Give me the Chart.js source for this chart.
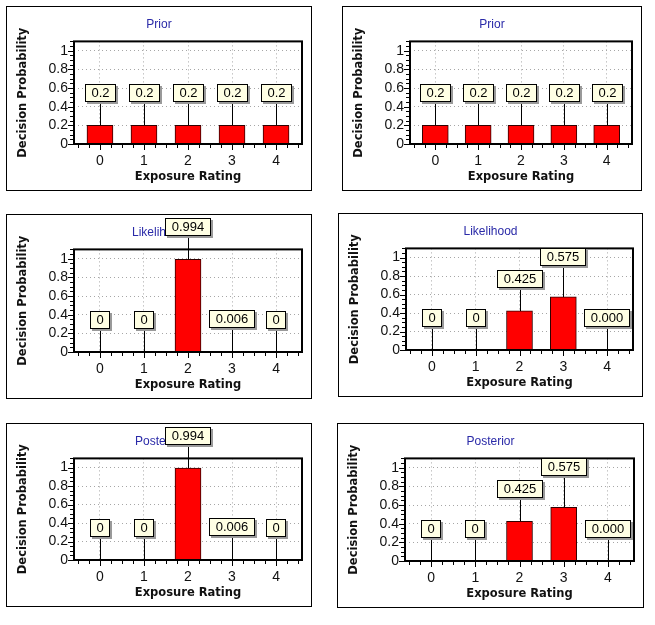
<!DOCTYPE html>
<html><head><meta charset="utf-8">
<script src="https://cdn.jsdelivr.net/npm/chart.js@4/dist/chart.umd.min.js"></script>
<style>
body{margin:0;background:#fff;width:655px;height:625px;position:relative;overflow:hidden}
.panel{position:absolute;border:1px solid #000;box-sizing:border-box;background:#fff}
.panel canvas{display:block}
</style></head><body>
<script>
// ---- data ----
const categories = [0, 1, 2, 3, 4];
const xTicks = [0, 1, 2, 3, 4];
const yTicks = [0, 0.2, 0.4, 0.6, 0.8, 1];
const yTickLabels = ['0', '0.2', '0.4', '0.6', '0.8', '1'];

const priorValues = [0.2, 0.2, 0.2, 0.2, 0.2];
const priorLabels = ['0.2', '0.2', '0.2', '0.2', '0.2'];

const likelihoodLeft = [0, 0, 0.994, 0.006, 0];
const likelihoodLeftLabels = ['0', '0', '0.994', '0.006', '0'];
const likelihoodRight = [0, 0, 0.425, 0.575, 0];
const likelihoodRightLabels = ['0', '0', '0.425', '0.575', '0.000'];

const posteriorLeft = [0, 0, 0.994, 0.006, 0];
const posteriorLeftLabels = ['0', '0', '0.994', '0.006', '0'];
const posteriorRight = [0, 0, 0.425, 0.575, 0];
const posteriorRightLabels = ['0', '0', '0.425', '0.575', '0.000'];

const xTitle = 'Exposure Rating';
const yTitle = 'Decision Probability';

// ---- layout ----
const panels = [
  {title: 'Prior', values: priorValues, labels: priorLabels, left: 6, top: 6, w: 306, h: 185},
  {title: 'Prior', values: priorValues, labels: priorLabels, left: 342, top: 6, w: 300, h: 185},
  {title: 'Likelihood', values: likelihoodLeft, labels: likelihoodLeftLabels, left: 6, top: 214, w: 306, h: 185},
  {title: 'Likelihood', values: likelihoodRight, labels: likelihoodRightLabels, left: 338, top: 213, w: 305, h: 184},
  {title: 'Posterior', values: posteriorLeft, labels: posteriorLeftLabels, left: 6, top: 423, w: 306, h: 184},
  {title: 'Posterior', values: posteriorRight, labels: posteriorRightLabels, left: 337, top: 423, w: 307, h: 185}
];

const decor = {
  id: 'decor',
  afterDraw(chart) {
    const {ctx, chartArea: a, scales: {x, y}} = chart;
    const labels = chart.config.options.plugins.decor.labels;
    ctx.save();
    // frame
    ctx.strokeStyle = '#000';
    ctx.lineWidth = 2;
    ctx.strokeRect(a.left, a.top, a.right - a.left, a.bottom - a.top);
    // tick marks (major + minor)
    ctx.lineWidth = 1;
    ctx.beginPath();
    for (let k = 0; k <= Math.floor(y.max * 20 + 1e-9); k++) {
      const py = Math.round(y.getPixelForValue(k / 20)) + 0.5;
      const len = k % 4 === 0 ? 5 : 3;
      ctx.moveTo(a.left - 1, py); ctx.lineTo(a.left - 1 - len, py);
    }
    for (let k = Math.ceil(x.min * 4); k <= Math.floor(x.max * 4); k++) {
      const px = Math.round(x.getPixelForValue(k / 4)) + 0.5;
      const len = k % 4 === 0 ? 5 : 3;
      ctx.moveTo(px, a.bottom + 1); ctx.lineTo(px, a.bottom + 1 + len);
    }
    ctx.stroke();
    // value label boxes
    ctx.font = '13px "Liberation Sans", Arial, sans-serif';
    ctx.textAlign = 'center';
    ctx.textBaseline = 'middle';
    const meta = chart.getDatasetMeta(0);
    const placed = [];
    meta.data.forEach((el, i) => {
      const txt = labels[i];
      const w = Math.round(ctx.measureText(txt).width) + 12;
      const h = 17;
      const bx = Math.round(el.x);
      const by = Math.round(el.y);
      let bottom = by - 24;
      let left = bx - Math.round(w / 2);
      for (const p of placed) {
        const hov = left < p.right + 2 && left + w > p.left - 2;
        const vov = bottom - h < p.bottom + 2 && bottom > p.top - 2;
        if (hov && vov) bottom = p.top - 5;
      }
      const top = bottom - h;
      placed.push({left, right: left + w, top, bottom});
      // connector
      ctx.strokeStyle = '#000';
      ctx.lineWidth = 1;
      ctx.beginPath();
      ctx.moveTo(bx + 0.5, by);
      ctx.lineTo(bx + 0.5, bottom);
      ctx.stroke();
      // shadow
      ctx.fillStyle = '#9a9a9a';
      ctx.fillRect(left + 2, top + 2, w + 1, h + 1);
      // box
      ctx.fillStyle = '#ffffe4';
      ctx.fillRect(left, top, w, h);
      ctx.strokeRect(left + 0.5, top + 0.5, w, h);
      ctx.fillStyle = '#000';
      ctx.fillText(txt, left + w / 2 + 0.5, top + h / 2 + 1);
    });
    ctx.restore();
  }
};

panels.forEach(p => {
  const div = document.createElement('div');
  div.className = 'panel';
  div.style.left = p.left + 'px';
  div.style.top = p.top + 'px';
  div.style.width = p.w + 'px';
  div.style.height = p.h + 'px';
  const cv = document.createElement('canvas');
  cv.width = p.w - 2;
  cv.height = p.h - 2;
  cv.style.width = (p.w - 2) + 'px';
  cv.style.height = (p.h - 2) + 'px';
  div.appendChild(cv);
  document.body.appendChild(div);

  new Chart(cv, {
    type: 'bar',
    data: {
      datasets: [{
        data: p.values.map((v, i) => ({x: categories[i], y: v})),
        backgroundColor: '#ff0000',
        borderColor: '#300000',
        borderWidth: 1,
        barThickness: 26
      }]
    },
    options: {
      responsive: false,
      animation: false,
      devicePixelRatio: 1,
      layout: {padding: {left: 9, right: 9, top: 0, bottom: 0}},
      plugins: {
        legend: {display: false},
        tooltip: {enabled: false},
        title: {
          display: true, text: p.title, color: '#2a2aa8',
          font: {family: '"Liberation Sans", Arial, sans-serif', size: 12, weight: 'normal'},
          padding: {top: 10, bottom: 10}
        },
        decor: {labels: p.labels}
      },
      scales: {
        x: {
          type: 'linear', min: -0.59, max: 4.59, offset: false,
          afterBuildTicks: s => { s.ticks = xTicks.map(v => ({value: v})); },
          afterFit: s => { s.height = 46; },
          grid: {color: '#a6a6a6', drawTicks: false, offset: false},
          border: {display: false, dash: [1, 3]},
          ticks: {
            padding: 9, color: '#111', autoSkip: false, maxRotation: 0,
            font: {family: '"Liberation Sans", Arial, sans-serif', size: 14},
            callback: v => String(v)
          },
          title: {
            display: true, text: xTitle, color: '#111',
            font: {family: '"DejaVu Sans", sans-serif', size: 11.5, weight: 'bold'},
            padding: {top: 0, bottom: 6}
          }
        },
        y: {
          min: 0, max: 1.1,
          afterBuildTicks: s => { s.ticks = yTicks.map(v => ({value: v})); },
          afterFit: s => { s.width = 58; },
          grid: {color: '#a6a6a6', drawTicks: false},
          border: {display: false, dash: [1, 3]},
          ticks: {
            padding: 6, color: '#111',
            font: {family: '"Liberation Sans", Arial, sans-serif', size: 14},
            callback: (v, i) => yTickLabels[yTicks.indexOf(v)] ?? String(v)
          },
          title: {
            display: true, text: yTitle, color: '#111',
            font: {family: '"DejaVu Sans", sans-serif', size: 11.5, weight: 'bold'},
            padding: {top: 0, bottom: 0}
          }
        }
      }
    },
    plugins: [decor]
  });
});
</script>
</body></html>
